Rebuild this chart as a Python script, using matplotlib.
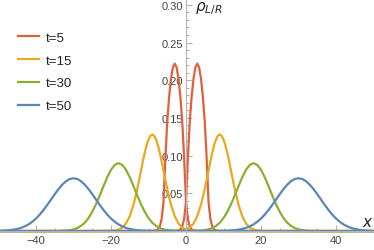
import matplotlib
matplotlib.use("Agg")
import matplotlib.pyplot as plt
from matplotlib.lines import Line2D

plt.rcParams['font.family'] = ['Liberation Sans', 'DejaVu Sans']

times = [5, 15, 30, 50]
labels = ["t=5", "t=15", "t=30", "t=50"]
colors = ["#E0603A", "#E8A91C", "#8CB02E", "#5B86B8"]
centers = [3, 9, 18, 30]

t5_dx = [0, 0.5, 1, 1.5, 2, 2.5, 3, 3.5, 4, 4.5, 5, 6]
t5_rho = [0.222, 0.217, 0.202, 0.178, 0.145, 0.097, 0.039, 0.016, 0.006, 0.0022, 0.0007, 0]

t15_dx = [0, 0.5, 1, 1.5, 2, 2.5, 3, 3.5, 4, 5, 6, 7, 8, 9, 10, 11, 12]
t15_rho = [0.128, 0.1263, 0.1215, 0.1139, 0.104, 0.0925, 0.080, 0.0677, 0.0557, 0.0349,
           0.0197, 0.010, 0.0046, 0.0019, 0.0007, 0.0002, 0]

t30_dx = [0, 1, 2, 3, 4, 5, 6, 7, 8, 9, 10, 11, 12, 13, 14, 15, 16, 17]
t30_rho = [0.090, 0.0877, 0.0812, 0.0713, 0.0595, 0.0472, 0.0355, 0.0254, 0.0172, 0.0111,
           0.0068, 0.0040, 0.0022, 0.0011, 0.0006, 0.0003, 0.0001, 0]

t50_dx = [0, 1, 2, 3, 4, 5, 6, 7, 8, 9, 10, 11, 12, 13, 14, 15, 16, 17, 18, 19, 20]
t50_rho = [0.070, 0.0690, 0.0661, 0.0615, 0.0556, 0.0489, 0.0417, 0.0346, 0.0279, 0.0219,
           0.0166, 0.0123, 0.0088, 0.0062, 0.0042, 0.0028, 0.0018, 0.0011, 0.0007, 0.0004, 0.0002]

profiles = [(t5_dx, t5_rho), (t15_dx, t15_rho), (t30_dx, t30_rho), (t50_dx, t50_rho)]

axis_gray = "#b4b4b4"
text_gray = "#444444"


def bump(center, dx, rho):
    """Full curve of the right moving packet, zero out to the plot edges."""
    xs = [-50] + [center - d for d in dx[::-1]] + [center + d for d in dx[1:]] + [50]
    ys = [0] + rho[::-1] + rho[1:] + [0]
    return xs, ys


fig = plt.figure(figsize=(3.74, 2.51), dpi=100)
ax = fig.add_axes([0, 0.068, 1, 0.932])

for c, (dx, rho), col in zip(centers, profiles, colors):
    xs, ys = bump(c, dx, rho)
    ax.plot(xs, ys, color=col, lw=1.6, solid_joinstyle="round")
    ax.plot([-x for x in xs], ys, color=col, lw=1.6, solid_joinstyle="round")

ax.set_xlim(-49.6, 50.13)
ax.set_ylim(-0.0025, 0.3077)

for s in ["top", "right"]:
    ax.spines[s].set_visible(False)
ax.spines["left"].set_position(("data", 0))
ax.spines["bottom"].set_position(("data", 0))
for s in ["left", "bottom"]:
    ax.spines[s].set_color(axis_gray)
    ax.spines[s].set_linewidth(0.8)

ax.set_xticks([-40, -20, 0, 20, 40])
ax.set_xticklabels(["\u221240", "\u221220", "0", "20", "40"])
ax.set_xticks([-45, -35, -30, -25, -15, -10, -5, 5, 10, 15, 25, 30, 35, 45], minor=True)
ax.set_yticks([0.05, 0.10, 0.15, 0.20, 0.25, 0.30])
ax.set_yticklabels(["0.05", "0.10", "0.15", "0.20", "0.25", "0.30"])
ax.set_yticks([0.01, 0.02, 0.03, 0.04, 0.06, 0.07, 0.08, 0.09, 0.11, 0.12, 0.13, 0.14,
               0.16, 0.17, 0.18, 0.19, 0.21, 0.22, 0.23, 0.24, 0.26, 0.27, 0.28, 0.29], minor=True)

ax.tick_params(which="both", direction="in", color=axis_gray, width=0.8,
               labelsize=8, labelcolor=text_gray)
ax.tick_params(which="major", length=4)
ax.tick_params(which="minor", length=2.3)
ax.tick_params(axis="x", pad=3.2)
ax.tick_params(axis="y", pad=2)

ax.text(2.4, 0.297, r"$\rho_{L/R}$", fontsize=11, color="#222222", va="center", ha="left")
ax.text(48.6, 0.012, r"$x$", fontsize=11, color="#222222", va="center", ha="center")

handles = [Line2D([0], [0], color=col, lw=1.6) for col in colors]
ax.legend(handles, labels, loc="upper left", bbox_to_anchor=(0.049, 0.870),
          bbox_transform=fig.transFigure, frameon=False, fontsize=9.5,
          handlelength=1.55, handletextpad=0.5, labelspacing=0.8,
          borderpad=0, borderaxespad=0, labelcolor="#222222")

fig.savefig("out.png", dpi=100)
